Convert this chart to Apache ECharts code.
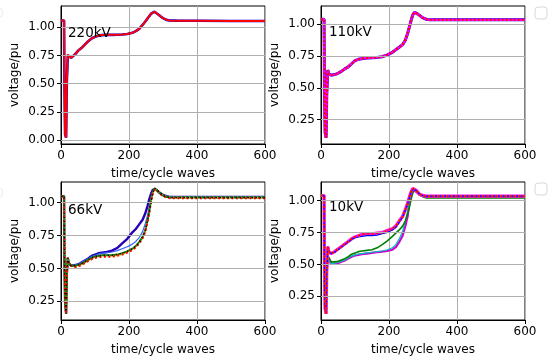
<!DOCTYPE html>
<html>
<head>
<meta charset="utf-8">
<script src="https://cdn.jsdelivr.net/npm/echarts@6/dist/echarts.min.js"></script>
<style>html,body{margin:0;padding:0;background:#fff}#c{width:550px;height:363px}</style>
</head>
<body>
<div id="c"></div>
<script>
// time axis (cycle waves)
const T = [0, 9, 10, 12, 15, 17, 20, 23, 30, 40, 50, 60, 70, 80, 90, 100, 110, 120, 135, 150, 165, 180, 195, 210, 220, 230, 240, 248, 255, 260, 265, 270, 275, 280, 285, 290, 300, 310, 320, 340, 400, 500, 600];
const panelTitles = ['220kV', '110kV', '66kV', '10kV'];
const xTicks = [0, 200, 400, 600];
const yTicks1 = [0.00, 0.25, 0.50, 0.75, 1.00];
const yTicks2 = [0.25, 0.50, 0.75, 1.00];

// 220kV
const v220_blue = [1.06,1.06,0.55,0.05,0.02,0.50,0.75,0.735,0.73,0.755,0.79,0.815,0.845,0.875,0.90,0.915,0.925,0.93,0.932,0.932,0.933,0.935,0.94,0.95,0.965,0.985,1.02,1.05,1.08,1.10,1.12,1.135,1.137,1.13,1.115,1.10,1.08,1.065,1.06,1.058,1.057,1.055,1.055];
const v220_red  = [1.06,1.06,0.55,0.05,0.02,0.50,0.76,0.735,0.73,0.755,0.79,0.815,0.845,0.875,0.90,0.915,0.925,0.93,0.932,0.932,0.933,0.935,0.94,0.95,0.965,0.985,1.02,1.05,1.08,1.10,1.12,1.135,1.137,1.13,1.115,1.10,1.08,1.065,1.06,1.058,1.057,1.055,1.055];

// 110kV
const v110 = [1.04,1.04,0.55,0.15,0.108,0.45,0.64,0.61,0.60,0.605,0.615,0.63,0.65,0.665,0.69,0.715,0.725,0.73,0.735,0.737,0.74,0.745,0.76,0.78,0.80,0.82,0.84,0.875,0.93,0.98,1.03,1.075,1.095,1.09,1.08,1.065,1.05,1.04,1.035,1.035,1.035,1.035,1.035];

// 66kV
const dip66 = [1.05,1.05,0.6,0.25,0.155,0.45,0.58,0.54,0.52];
const v66_navy   = dip66.concat([0.525,0.53,0.545,0.56,0.575,0.595,0.605,0.615,0.62,0.625,0.635,0.655,0.69,0.725,0.775,0.80,0.835,0.87,0.92,0.98,1.03,1.07,1.10,1.11,1.10,1.09,1.075,1.06,1.05,1.045,1.045,1.045,1.045,1.045]);
const v66_blue   = dip66.concat([0.525,0.53,0.545,0.56,0.575,0.59,0.60,0.61,0.615,0.62,0.625,0.635,0.65,0.665,0.685,0.705,0.735,0.78,0.84,0.91,0.98,1.04,1.085,1.11,1.10,1.09,1.075,1.06,1.05,1.045,1.045,1.045,1.045,1.045]);
const v66_green  = dip66.concat([0.52,0.525,0.535,0.55,0.565,0.58,0.59,0.595,0.60,0.60,0.60,0.605,0.615,0.63,0.65,0.67,0.70,0.74,0.79,0.87,0.94,1.02,1.08,1.11,1.10,1.09,1.075,1.055,1.045,1.04,1.04,1.04,1.04,1.04]);
const v66_yellow = dip66.concat([0.515,0.52,0.53,0.545,0.56,0.575,0.585,0.59,0.595,0.595,0.595,0.60,0.61,0.625,0.645,0.665,0.695,0.735,0.785,0.865,0.935,1.015,1.075,1.105,1.10,1.09,1.075,1.055,1.045,1.04,1.04,1.04,1.04,1.04]);
const v66_red    = dip66.concat([0.51,0.515,0.525,0.54,0.555,0.57,0.58,0.585,0.588,0.588,0.59,0.595,0.605,0.62,0.64,0.66,0.69,0.73,0.78,0.86,0.93,1.01,1.07,1.10,1.10,1.09,1.07,1.05,1.04,1.035,1.035,1.035,1.035,1.035]);
const v66_black  = dip66.concat([0.52,0.525,0.535,0.55,0.565,0.58,0.59,0.595,0.60,0.60,0.60,0.605,0.615,0.63,0.65,0.67,0.70,0.74,0.79,0.87,0.94,1.02,1.08,1.11,1.10,1.09,1.075,1.055,1.045,1.04,1.04,1.04,1.04,1.04]);

// 10kV
const dip10hi = [1.04,1.04,0.55,0.15,0.113,0.45,0.64,0.60,0.585];
const dip10lo = [1.04,1.04,0.55,0.15,0.113,0.45,0.55,0.53,0.505];
const dip10g  = [1.04,1.04,0.55,0.15,0.113,0.45,0.57,0.56,0.52];
const v10_upper  = dip10hi.concat([0.60,0.62,0.64,0.66,0.68,0.70,0.715,0.725,0.735,0.74,0.74,0.745,0.75,0.765,0.78,0.80,0.84,0.875,0.93,0.98,1.03,1.07,1.095,1.09,1.08,1.065,1.05,1.04,1.035,1.035,1.035,1.035,1.035,1.035]);
const v10_blue   = dip10hi.concat([0.595,0.615,0.635,0.655,0.675,0.695,0.71,0.715,0.72,0.725,0.725,0.73,0.74,0.75,0.77,0.79,0.83,0.87,0.925,0.975,1.025,1.065,1.09,1.09,1.08,1.065,1.05,1.04,1.035,1.035,1.035,1.035,1.035,1.035]);
const v10_purple = dip10lo.concat([0.505,0.51,0.52,0.53,0.545,0.56,0.57,0.575,0.58,0.585,0.59,0.595,0.60,0.605,0.615,0.635,0.675,0.725,0.80,0.88,0.98,1.05,1.085,1.08,1.07,1.06,1.045,1.035,1.03,1.03,1.03,1.03,1.03,1.03]);
const v10_cyan   = dip10lo.concat([0.51,0.515,0.525,0.535,0.55,0.565,0.575,0.58,0.585,0.59,0.595,0.60,0.605,0.615,0.63,0.655,0.70,0.76,0.84,0.92,1.0,1.06,1.085,1.08,1.07,1.06,1.045,1.035,1.03,1.03,1.03,1.03,1.03,1.03]);
const v10_green  = dip10g.concat([0.52,0.525,0.535,0.545,0.56,0.58,0.59,0.60,0.605,0.61,0.615,0.63,0.655,0.685,0.72,0.745,0.77,0.80,0.84,0.90,0.95,1.01,1.06,1.085,1.08,1.06,1.045,1.03,1.02,1.02,1.02,1.02,1.02,1.02]);

const pairs = v => T.map((t, i) => [t, v[i]]);
const FONT = 'DejaVu Sans';

const grids = [
  {left: 61, top: 6, width: 204, height: 138},
  {left: 321, top: 6, width: 204, height: 138},
  {left: 61, top: 182, width: 204, height: 138},
  {left: 321, top: 182, width: 204, height: 138}
];
const yRanges = [[-0.036, 1.188], [0.059, 1.144], [0.107, 1.158], [0.064, 1.146]];

const xAxes = grids.map((g, i) => ({
  type: 'value', gridIndex: i, min: 0, max: 600, interval: 200,
  name: 'time/cycle waves', nameLocation: 'middle', nameGap: 24,
  nameTextStyle: {fontFamily: FONT, fontSize: 12, color: '#000'},
  axisLine: {show: true, onZero: false, lineStyle: {color: '#000', width: 1}},
  axisTick: {show: true, inside: false, length: 4, lineStyle: {color: '#000'}},
  axisLabel: {fontFamily: FONT, fontSize: 12, color: '#000', margin: 6},
  splitLine: {show: true, lineStyle: {color: '#b0b0b0', width: 1}}
}));
const yAxes = grids.map((g, i) => {
  const ticks = i === 0 ? yTicks1 : yTicks2;
  return {
    type: 'value', gridIndex: i, min: yRanges[i][0], max: yRanges[i][1],
    name: 'voltage/pu', nameLocation: 'middle', nameGap: 40,
    nameTextStyle: {fontFamily: FONT, fontSize: 12, color: '#000'},
    axisLine: {show: true, onZero: false, lineStyle: {color: '#000', width: 1}},
    axisTick: {show: true, inside: false, length: 4, lineStyle: {color: '#000'}, customValues: ticks},
    axisLabel: {fontFamily: FONT, fontSize: 12, color: '#000', margin: 6, customValues: ticks,
      formatter: v => v.toFixed(2)},
    splitLine: {show: false}
  };
});

function ln(idx, data, color, width, dash, z) {
  return {
    type: 'line', xAxisIndex: idx, yAxisIndex: idx, data: pairs(data),
    showSymbol: false, symbol: 'none', smooth: false, silent: true, animation: false,
    lineStyle: {color: color, width: width, type: dash || 'solid', cap: 'butt'}, z: z || 2
  };
}
function gridLines(idx, ticks) {
  return {
    type: 'line', xAxisIndex: idx, yAxisIndex: idx, data: [], silent: true, z: 1,
    markLine: {silent: true, symbol: 'none', animation: false, label: {show: false},
      lineStyle: {color: '#b0b0b0', width: 1, type: 'solid'},
      data: ticks.map(v => ({yAxis: v}))}
  };
}

const series = [
  gridLines(0, yTicks1), gridLines(1, yTicks2), gridLines(2, yTicks2), gridLines(3, yTicks2),
  ln(0, v220_blue, '#0000ff', 2.6),
  ln(0, v220_red, '#ff0000', 2),
  ln(1, v110, '#0000ff', 3),
  ln(1, v110, '#ff00ff', 2.4),
  ln(1, v110, '#ff0000', 2, [2, 2]),
  ln(2, v66_navy, '#2a00b4', 2.4),
  ln(2, v66_blue, '#3060ff', 1.2),
  ln(2, v66_green, '#008000', 2),
  ln(2, v66_yellow, '#c8c800', 2, [2, 2]),
  ln(2, v66_red, '#ff0000', 2, [2, 2.5]),
  ln(2, v66_black, '#000000', 1.5, [1.5, 2.5]),
  ln(3, v10_purple, '#d000d0', 2.2),
  ln(3, v10_cyan, '#00bfbf', 1.2),
  ln(3, v10_green, '#008000', 1.6),
  ln(3, v10_upper, '#ff00ff', 3.2),
  ln(3, v10_blue, '#0000ff', 1.2),
  ln(3, v10_upper, '#c8c800', 2, [2, 2.5]),
  ln(3, v10_upper, '#ff0000', 2, [2, 2.5])
];

const titlePos = [[68, 26], [329, 25], [68, 203], [329, 200]];
const titles = panelTitles.map((t, i) => ({
  text: t, left: titlePos[i][0], top: titlePos[i][1], padding: 0,
  textStyle: {fontFamily: FONT, fontSize: 13.5, fontWeight: 'normal', color: '#000'}
}));

const chart = echarts.init(document.getElementById('c'), null, {renderer: 'canvas'});
chart.setOption({
  animation: false,
  backgroundColor: '#fff',
  title: titles,
  grid: grids.map(g => Object.assign({show: true, borderColor: '#000', borderWidth: 1, backgroundColor: '#fff'}, g)),
  xAxis: xAxes,
  yAxis: yAxes,
  series: series,
  graphic: [
    {type: 'rect', shape: {x: 535, y: 7, width: 12, height: 12, r: 3}, style: {fill: '#fff', stroke: '#d8d8d8', lineWidth: 1}},
    {type: 'rect', shape: {x: 535, y: 183, width: 12, height: 12, r: 3}, style: {fill: '#fff', stroke: '#d8d8d8', lineWidth: 1}},
    {type: 'rect', shape: {x: -9, y: 8, width: 11.5, height: 9, r: 3}, style: {fill: '#fff', stroke: '#ececec', lineWidth: 1}},
    {type: 'rect', shape: {x: -9, y: 188, width: 11.5, height: 9, r: 3}, style: {fill: '#fff', stroke: '#ececec', lineWidth: 1}}
  ]
});
</script>
</body>
</html>
